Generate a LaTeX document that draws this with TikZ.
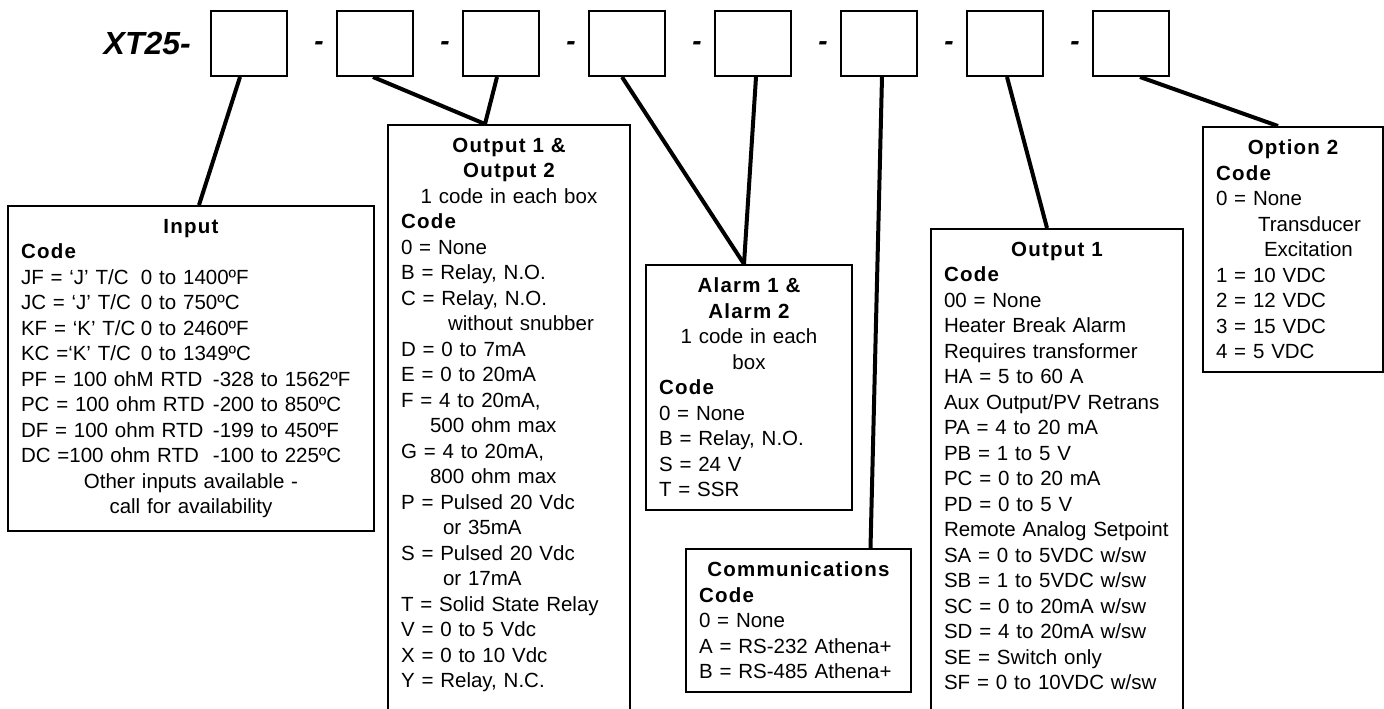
\documentclass[tikz,border=0pt]{standalone}
\usepackage{fontspec}
\setmainfont{Liberation Sans}
\newfontfamily\headfont{Liberation Sans}[LetterSpace=6]
\usetikzlibrary{positioning}

\tikzset{
	codebox/.style={draw, line width=2pt, minimum width=76pt, minimum height=65pt, inner sep=0pt},
	dashsym/.style={font=\fontsize{28}{28}\selectfont\bfseries\itshape, inner sep=0pt},
	partno/.style={font=\fontsize{32}{32}\selectfont\bfseries\itshape, inner sep=0pt},
	infobox/.style={draw, line width=2pt, anchor=north west, align=left, inner sep=13pt,
		font=\fontsize{20.5}{25.5}\selectfont},
	lead/.style={line width=4pt}
}
\newcommand{\hd}[1]{{\headfont\bfseries #1}}
\newcommand{\ctr}[1]{\makebox[\linewidth]{#1}}

\begin{document}
\begin{tikzpicture}[x=1pt, y=-1pt]
	\useasboundingbox (0,0) rectangle (1384,709);
	\clip (0,0) rectangle (1384,709);
	
	% Bestellschluessel: Kaestchen
	\foreach \i in {1,...,8}
		\node[codebox] (b\i) at ({249+126*(\i-1)},43.5) {};
	\foreach \i in {2,...,8}
		\node[dashsym] (d\i) at ([xshift=-17pt, yshift=-3pt]b\i.west) {-};
	\node[partno, left=19pt of b1] (xt) {XT25-};
	
	% Tabellen
	\node[infobox, text width=340pt] (input) at (7,205) {%
		\ctr{\hd{Input}}\\
		\hd{Code}\\
		\makebox[120pt][l]{JF = ‘J’ T/C}0 to 1400ºF\\
		\makebox[120pt][l]{JC = ‘J’ T/C}0 to 750ºC\\
		\makebox[120pt][l]{KF = ‘K’ T/C}0 to 2460ºF\\
		\makebox[120pt][l]{KC =‘K’ T/C}0 to 1349ºC\\
		\makebox[192pt][l]{PF = 100 ohM RTD}-328 to 1562ºF\\
		\makebox[192pt][l]{PC = 100 ohm RTD}-200 to 850ºC\\
		\makebox[192pt][l]{DF = 100 ohm RTD}-199 to 450ºF\\
		\makebox[192pt][l]{DC =100 ohm RTD}-100 to 225ºC\\
		\ctr{Other inputs available -}\\
		\ctr{call for availability}};
	
	\node[infobox, text width=216pt, text depth=700pt] (outab) at (387,124) {%
		\ctr{\hd{Output 1 \&}}\\
		\ctr{\hd{Output 2}}\\
		\ctr{1 code in each box}\\
		\hd{Code}\\
		0 = None\\
		B = Relay, N.O.\\
		C = Relay, N.O.\\
		\hspace*{47pt}without snubber\\
		D = 0 to 7mA\\
		E = 0 to 20mA\\
		F = 4 to 20mA,\\
		\hspace*{29pt}500 ohm max\\
		G = 4 to 20mA,\\
		\hspace*{29pt}800 ohm max\\
		P = Pulsed 20 Vdc\\
		\hspace*{42pt}or 35mA\\
		S = Pulsed 20 Vdc\\
		\hspace*{42pt}or 17mA\\
		T = Solid State Relay\\
		V = 0 to 5 Vdc\\
		X = 0 to 10 Vdc\\
		Y = Relay, N.C.};
	
	\node[infobox, text width=180pt] (alarm) at (645,264) {%
		\ctr{\hd{Alarm 1 \&}}\\
		\ctr{\hd{Alarm 2}}\\
		\ctr{1 code in each}\\
		\ctr{box}\\
		\hd{Code}\\
		0 = None\\
		B = Relay, N.O.\\
		S = 24 V\\
		T = SSR};
	
	\node[infobox, text width=199pt] (comm) at (685,548) {%
		\ctr{\hd{Communications}}\\
		\hd{Code}\\
		0 = None\\
		A = RS-232 Athena+\\
		B = RS-485 Athena+};
	
	\node[infobox, text width=226pt, text depth=700pt] (outa) at (930,228) {%
		\ctr{\hd{Output 1}}\\
		\hd{Code}\\
		00 = None\\
		Heater Break Alarm\\
		Requires transformer\\
		HA = 5 to 60 A\\
		Aux Output/PV Retrans\\
		PA = 4 to 20 mA\\
		PB = 1 to 5 V\\
		PC = 0 to 20 mA\\
		PD = 0 to 5 V\\
		Remote Analog Setpoint\\
		SA = 0 to 5VDC w/sw\\
		SB = 1 to 5VDC w/sw\\
		SC = 0 to 20mA w/sw\\
		SD = 4 to 20mA w/sw\\
		SE = Switch only\\
		SF = 0 to 10VDC w/sw};
	
	\node[infobox, text width=154pt] (optb) at (1202,126) {%
		\ctr{\hd{Option 2}}\\
		\hd{Code}\\
		0 = None\\
		\hspace*{42pt}Transducer\\
		\hspace*{48pt}Excitation\\
		1 = 10 VDC\\
		2 = 12 VDC\\
		3 = 15 VDC\\
		4 = 5 VDC};
	
	% Verbindungen
	\draw[lead] ([xshift=-9pt]b1.south) -- ([xshift=8pt]input.north);
	\draw[lead] ([xshift=-2pt]b2.south) -- ([xshift=-24pt]outab.north);
	\draw[lead] ([xshift=-4pt]b3.south) -- ([xshift=-24pt]outab.north);
	\draw[lead] ([xshift=-5pt]b4.south) -- ([xshift=-5pt]alarm.north);
	\draw[lead] ([xshift=3pt]b5.south) -- ([xshift=-5pt]alarm.north);
	\draw[lead] ([xshift=3pt]b6.south) -- ([xshift=72pt]comm.north);
	\draw[lead] ([xshift=2pt]b7.south) -- ([xshift=-10pt]outa.north);
	\draw[lead] ([xshift=9pt]b8.south) -- ([xshift=-15pt]optb.north);
\end{tikzpicture}
\end{document}
